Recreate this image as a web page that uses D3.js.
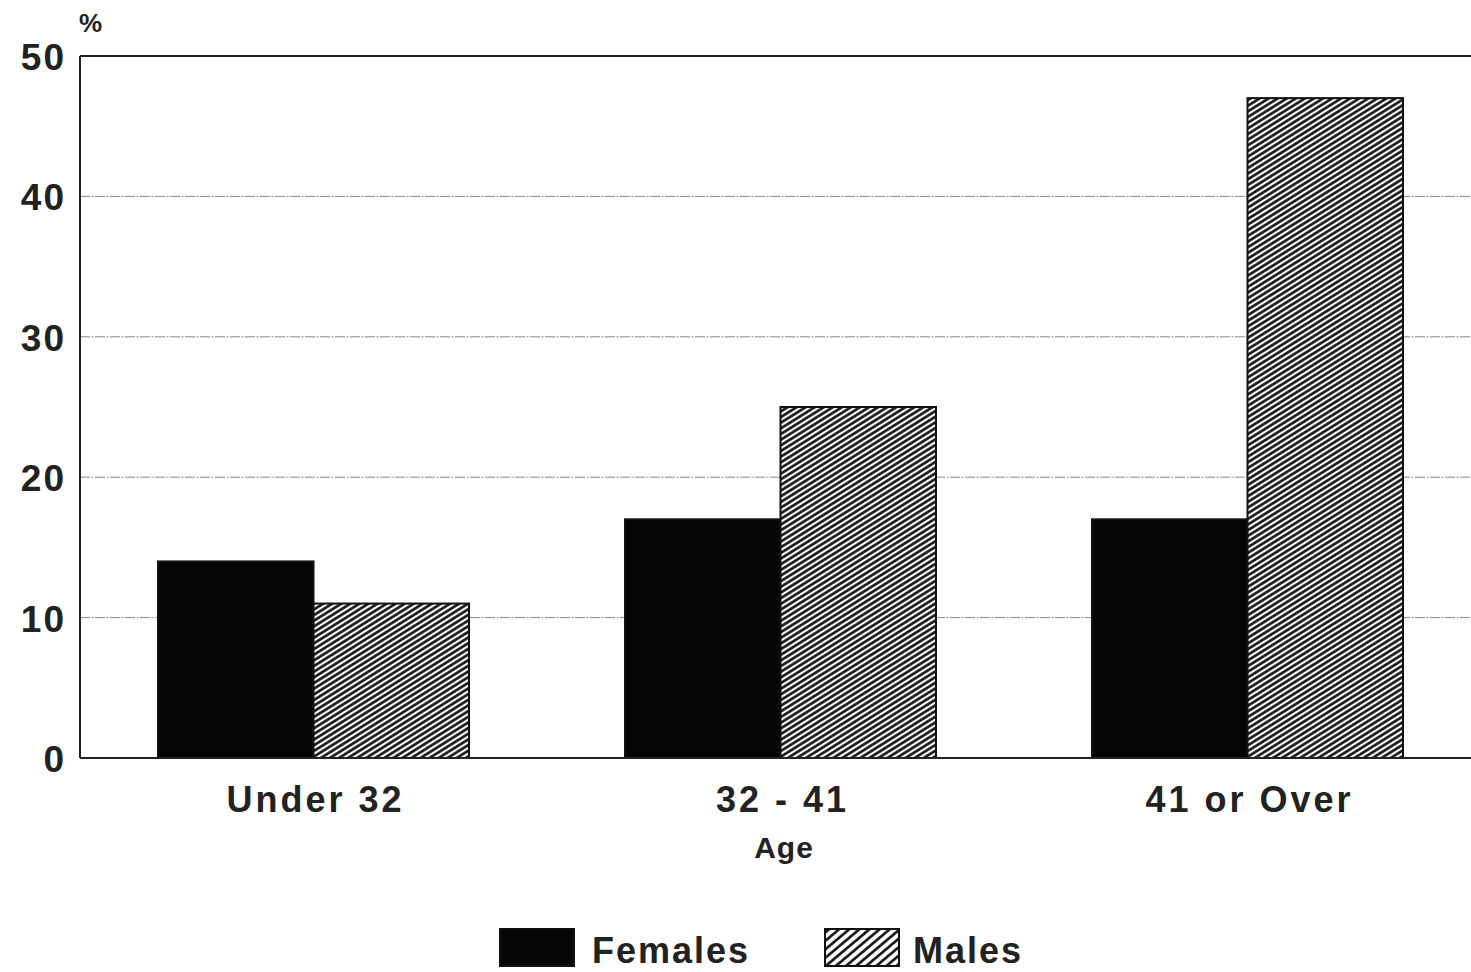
<!DOCTYPE html>
<html><head><meta charset="utf-8">
<script src="https://cdn.jsdelivr.net/npm/d3@7"></script>
<style>body{margin:0;background:#fff}svg{display:block}text{font-family:"Liberation Sans",Arial,sans-serif;font-weight:bold;fill:#222}</style>
</head><body>
<script>
const categories = ["Under 32", "32 - 41", "41 or Over"];
const series = ["Females", "Males"];
const females = [14, 17, 17];
const males = [11, 25, 47];
const yTicks = [0, 10, 20, 30, 40, 50];

const W = 1471, H = 972;
const svg = d3.select("body").append("svg").attr("width", W).attr("height", H);
const defs = svg.append("defs");
function hatch(id, angle, gap, sw) {
  const p = defs.append("pattern").attr("id", id).attr("patternUnits", "userSpaceOnUse")
    .attr("width", 20).attr("height", gap).attr("patternTransform", `rotate(${angle})`);
  p.append("rect").attr("width", 20).attr("height", gap).attr("fill", "#fff");
  p.append("line").attr("x1", 0).attr("x2", 20).attr("y1", gap / 2).attr("y2", gap / 2)
    .attr("stroke", "#111").attr("stroke-width", sw);
}
hatch("hatch", -32, 4.8, 2.6);
hatch("hatchL", -40, 6.5, 2.6);

const x0 = d3.scaleBand().domain(categories).range([80, 1481]).paddingInner(0).paddingOuter(0);
const x1 = d3.scaleBand().domain(series).range([78, 389]);
const y = d3.scaleLinear().domain([0, 50]).range([758, 56]);

// gridlines
svg.append("g").selectAll("line").data(yTicks.filter(t => t > 0 && t < 50)).join("line")
  .attr("x1", 80).attr("x2", W).attr("y1", d => y(d)).attr("y2", d => y(d))
  .attr("stroke", "#888").attr("stroke-width", 1).attr("stroke-dasharray", "10 1.5 2 1.5");

// top border
svg.append("line").attr("x1", 80).attr("x2", W).attr("y1", y(50)).attr("y2", y(50))
  .attr("stroke", "#222").attr("stroke-width", 2);

const data = categories.map((c, i) => ({c, vals: [{s: "Females", v: females[i]}, {s: "Males", v: males[i]}]}));
const g = svg.append("g").selectAll("g").data(data).join("g")
  .attr("transform", d => `translate(${x0(d.c)},0)`);
g.selectAll("rect").data(d => d.vals).join("rect")
  .attr("x", d => x1(d.s)).attr("width", x1.bandwidth())
  .attr("y", d => y(d.v)).attr("height", d => y(0) - y(d.v))
  .attr("fill", d => d.s === "Females" ? "#050505" : "url(#hatch)")
  .attr("stroke", "#111").attr("stroke-width", 2);

// axes lines
svg.append("line").attr("x1", 80).attr("x2", 80).attr("y1", y(50)).attr("y2", y(0)).attr("stroke", "#222").attr("stroke-width", 2);
svg.append("line").attr("x1", 80).attr("x2", W).attr("y1", y(0)).attr("y2", y(0)).attr("stroke", "#222").attr("stroke-width", 2);

// y tick labels
svg.append("g").selectAll("text").data(yTicks).join("text")
  .attr("x", 66).attr("y", d => y(d) + 14).attr("text-anchor", "end")
  .attr("font-size", 37).attr("letter-spacing", 2).text(d => d);
svg.append("text").attr("x", 79).attr("y", 32).attr("font-size", 26).text("%");

// category labels
svg.append("g").selectAll("text").data(categories).join("text")
  .attr("x", d => x0(d) + x0.bandwidth() / 2 + 2).attr("y", 812).attr("text-anchor", "middle")
  .attr("font-size", 36).attr("letter-spacing", 3).text(d => d);
svg.append("text").attr("x", 784).attr("y", 858).attr("text-anchor", "middle")
  .attr("font-size", 30).attr("letter-spacing", 1).text("Age");

// legend
const legend = [{s: "Females", x: 500, fill: "#050505", tx: 592}, {s: "Males", x: 825, fill: "url(#hatchL)", tx: 913}];
const lg = svg.append("g").selectAll("g").data(legend).join("g");
lg.append("rect").attr("x", d => d.x).attr("y", 929).attr("width", 74).attr("height", 37)
  .attr("fill", d => d.fill).attr("stroke", "#111").attr("stroke-width", 2);
lg.append("text").attr("x", d => d.tx).attr("y", 963).attr("font-size", 36).attr("letter-spacing", 2).text(d => d.s);
</script>
</body></html>
